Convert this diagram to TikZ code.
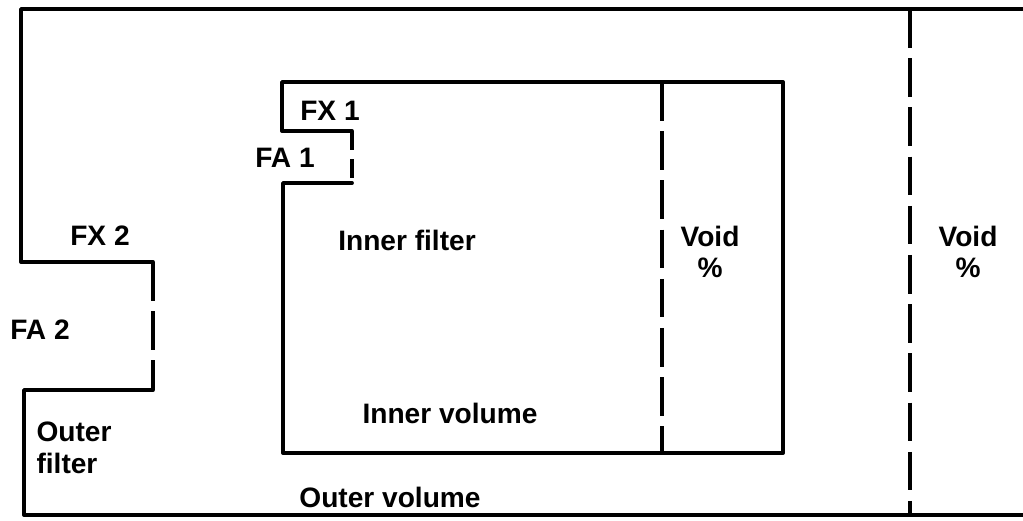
\documentclass[tikz,border=0pt]{standalone}
\usepackage{fontspec}
\setmainfont{Liberation Sans}
\usepackage{tikz}

\begin{document}
\begin{tikzpicture}[x=0.02cm, y=-0.02cm, line width=2.2pt, font=\bfseries\fontsize{16}{18}\selectfont,
  wall/.style={line join=round, line cap=round},
  gap/.style={dash pattern=on 22pt off 6pt},
  smallgap/.style={dash pattern=on 11pt off 5pt},
  lbl/.style={inner sep=0pt, align=center}]
  \useasboundingbox (0,0) rectangle (1023,520);
  \draw[wall] (1030,9) -- (21,9) -- (21,262) -- (153,262);
  \draw[gap] (153,262) -- (153,390);
  \draw[wall] (153,390) -- (24,390) -- (24,515) -- (1030,515);
  \draw[gap] (910,9) -- (910,515);
  \draw[wall] (352,131) -- (282,131) -- (282,82) -- (783,82) -- (783,453) -- (283,453) -- (283,183) -- (352,183);
  \draw[smallgap] (352,131) -- (352,183);
  \draw[gap] (662,82) -- (662,453);
  \node[lbl] (fx1) at (330,111) {FX 1};
  \node[lbl] (fa1) at (285,158) {FA 1};
  \node[lbl] (fx2) at (100,236) {FX 2};
  \node[lbl] (fa2) at (40,330) {FA 2};
  \node[lbl, align=left] (outerfilter) at (74,448) {Outer\\filter};
  \node[lbl] (innerfilter) at (407,240) {Inner filter};
  \node[lbl] (innervolume) at (450,413) {Inner volume};
  \node[lbl] (innervoid) at (710,252) {Void\\\%};
  \node[lbl] (outervoid) at (968,252) {Void\\\%};
  \node[lbl] (outervolume) at (390,497) {Outer volume};
\end{tikzpicture}
\end{document}
